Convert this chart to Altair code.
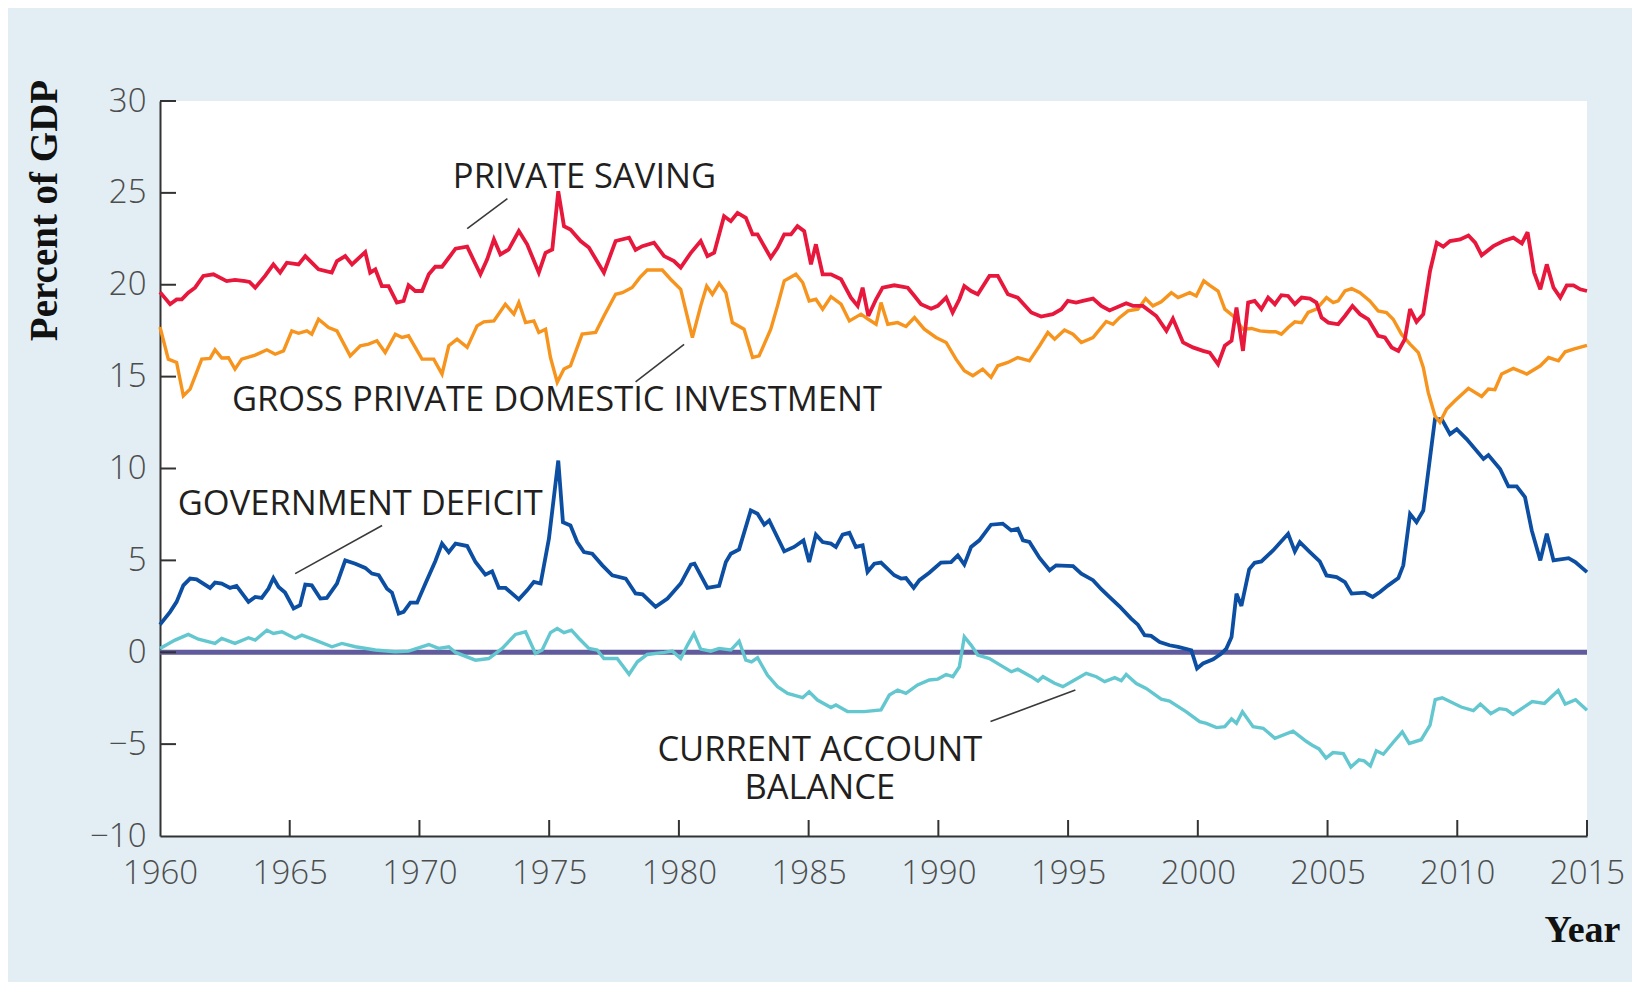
import altair as alt
import pandas as pd

# ---------------- data ----------------
saving_years = [1960.0, 1960.39, 1960.64, 1960.84, 1961.09, 1961.35, 1961.67, 1962.06, 1962.57, 1962.89,
                1963.28, 1963.45, 1963.67, 1964.05, 1964.37, 1964.63, 1964.89, 1965.34, 1965.6, 1965.85,
                1966.11, 1966.62, 1966.82, 1967.14, 1967.4, 1967.91, 1968.1, 1968.3, 1968.55, 1968.81,
                1969.13, 1969.39, 1969.58, 1969.84, 1970.1, 1970.36, 1970.61, 1970.87, 1971.13, 1971.39,
                1971.84, 1972.35, 1972.61, 1972.87, 1973.12, 1973.44, 1973.83, 1974.15, 1974.6, 1974.86,
                1975.12, 1975.35, 1975.57, 1975.82, 1976.21, 1976.53, 1977.11, 1977.56, 1978.08, 1978.33,
                1978.59, 1979.04, 1979.43, 1979.81, 1980.07, 1980.46, 1980.84, 1981.1, 1981.36, 1981.74,
                1982.0, 1982.26, 1982.58, 1982.84, 1983.03, 1983.54, 1983.8, 1984.06, 1984.32, 1984.57,
                1984.83, 1985.09, 1985.28, 1985.54, 1985.86, 1986.25, 1986.63, 1986.89, 1987.08, 1987.3,
                1987.6, 1987.85, 1988.3, 1988.82, 1989.08, 1989.33, 1989.72, 1989.98, 1990.3, 1990.55,
                1990.81, 1991.0, 1991.26, 1991.52, 1991.97, 1992.29, 1992.68, 1993.06, 1993.58, 1993.96,
                1994.41, 1994.74, 1994.99, 1995.31, 1995.57, 1995.96, 1996.28, 1996.6, 1997.24, 1997.5,
                1997.88, 1998.4, 1998.79, 1999.04, 1999.43, 1999.81, 2000.2, 2000.46, 2000.78, 2001.04,
                2001.3, 2001.49, 2001.74, 2001.94, 2002.19, 2002.45, 2002.71, 2002.97, 2003.22, 2003.48,
                2003.74, 2004.0, 2004.32, 2004.57, 2004.77, 2005.03, 2005.41, 2005.67, 2005.96, 2006.25,
                2006.57, 2006.95, 2007.21, 2007.47, 2007.73, 2007.98, 2008.18, 2008.43, 2008.69, 2008.95,
                2009.21, 2009.46, 2009.72, 2010.11, 2010.43, 2010.69, 2010.94, 2011.39, 2011.78, 2012.16,
                2012.49, 2012.71, 2012.96, 2013.2, 2013.45, 2013.71, 2013.97, 2014.22, 2014.48, 2014.74,
                2015.0]
saving_vals = [19.6, 18.94, 19.2, 19.21, 19.57, 19.84, 20.48, 20.57, 20.2, 20.26,
               20.2, 20.15, 19.84, 20.48, 21.11, 20.66, 21.2, 21.11, 21.56, 21.2,
               20.84, 20.66, 21.29, 21.56, 21.11, 21.78, 20.66, 20.84, 19.93, 19.93,
               19.03, 19.12, 19.97, 19.66, 19.66, 20.57, 20.98, 20.98, 21.47, 21.96,
               22.07, 20.57, 21.38, 22.47, 21.65, 21.92, 22.92, 22.2, 20.66, 21.74,
               21.92, 25.09, 23.19, 23.01, 22.38, 22.02, 20.66, 22.38, 22.56, 21.9,
               22.1, 22.29, 21.56, 21.29, 20.93, 21.74, 22.38, 21.56, 21.74, 23.73,
               23.46, 23.91, 23.64, 22.74, 22.74, 21.47, 22.01, 22.74, 22.74, 23.19,
               22.92, 21.11, 22.2, 20.57, 20.57, 20.3, 19.3, 18.85, 19.84, 18.3,
               19.21, 19.84, 19.97, 19.84, 19.39, 18.94, 18.7, 18.85, 19.3, 18.49,
               19.21, 19.93, 19.66, 19.48, 20.48, 20.48, 19.48, 19.3, 18.49, 18.27,
               18.4, 18.67, 19.12, 19.03, 19.12, 19.25, 18.85, 18.6, 18.99, 18.85,
               18.85, 18.3, 17.49, 18.16, 16.86, 16.59, 16.4, 16.31, 15.68, 16.68,
               16.95, 18.76, 16.4, 19.03, 19.12, 18.67, 19.3, 18.94, 19.43, 19.39,
               18.94, 19.3, 19.25, 19.03, 18.21, 17.94, 17.85, 18.3, 18.85, 18.4,
               18.12, 17.22, 17.13, 16.59, 16.4, 17.04, 18.67, 17.98, 18.4, 20.75,
               22.29, 22.07, 22.38, 22.47, 22.68, 22.29, 21.6, 22.1, 22.38, 22.56,
               22.25, 22.86, 20.66, 19.75, 21.11, 19.84, 19.3, 19.97, 19.97, 19.75,
               19.66]

invest_years = [1960.0, 1960.32, 1960.64, 1960.9, 1961.16, 1961.61, 1961.93, 1962.12, 1962.38, 1962.64,
                1962.89, 1963.15, 1963.67, 1964.12, 1964.44, 1964.76, 1965.08, 1965.34, 1965.66, 1965.85,
                1966.11, 1966.5, 1966.82, 1967.33, 1967.72, 1968.04, 1968.36, 1968.68, 1969.07, 1969.33,
                1969.58, 1970.1, 1970.55, 1970.87, 1971.13, 1971.45, 1971.84, 1972.22, 1972.48, 1972.87,
                1973.31, 1973.64, 1973.83, 1974.09, 1974.41, 1974.6, 1974.86, 1975.05, 1975.31, 1975.57,
                1975.82, 1976.27, 1976.79, 1977.11, 1977.56, 1977.82, 1978.2, 1978.5, 1978.78, 1979.36,
                1979.68, 1980.07, 1980.52, 1980.84, 1981.07, 1981.29, 1981.55, 1981.81, 1982.06, 1982.51,
                1982.84, 1983.09, 1983.54, 1983.8, 1984.06, 1984.51, 1984.77, 1985.02, 1985.28, 1985.54,
                1985.86, 1986.25, 1986.57, 1987.02, 1987.3, 1987.6, 1987.79, 1988.05, 1988.43, 1988.75,
                1989.08, 1989.46, 1989.91, 1990.3, 1990.68, 1991.0, 1991.33, 1991.71, 1992.03, 1992.29,
                1992.68, 1993.06, 1993.51, 1993.9, 1994.22, 1994.48, 1994.86, 1995.19, 1995.51, 1995.96,
                1996.47, 1996.73, 1996.98, 1997.31, 1997.69, 1997.99, 1998.27, 1998.59, 1998.98, 1999.24,
                1999.69, 1999.94, 2000.23, 2000.46, 2000.78, 2001.04, 2001.36, 2001.74, 2002.07, 2002.39,
                2002.77, 2003.0, 2003.22, 2003.48, 2003.74, 2004.0, 2004.25, 2004.57, 2004.96, 2005.22,
                2005.41, 2005.67, 2005.93, 2006.25, 2006.63, 2006.95, 2007.27, 2007.53, 2007.85, 2008.18,
                2008.5, 2008.69, 2008.88, 2009.14, 2009.33, 2009.59, 2009.91, 2010.43, 2010.94, 2011.2,
                2011.45, 2011.71, 2012.16, 2012.68, 2013.2, 2013.52, 2013.9, 2014.16, 2014.48, 2015.0]
invest_vals = [17.7, 15.95, 15.77, 13.96, 14.32, 15.95, 15.99, 16.46, 16.01, 16.03,
               15.41, 15.95, 16.17, 16.46, 16.22, 16.4, 17.49, 17.36, 17.49, 17.31,
               18.12, 17.67, 17.49, 16.13, 16.68, 16.77, 16.95, 16.31, 17.31, 17.13,
               17.22, 15.95, 15.95, 15.14, 16.68, 17.04, 16.59, 17.76, 17.98, 18.03,
               18.94, 18.4, 19.03, 17.94, 18.03, 17.4, 17.58, 16.04, 14.69, 15.41,
               15.59, 17.31, 17.4, 18.3, 19.48, 19.57, 19.85, 20.4, 20.8, 20.8,
               20.3, 19.75, 17.13, 18.85, 19.93, 19.48, 20.08, 19.57, 17.94, 17.58,
               16.04, 16.13, 17.58, 18.85, 20.21, 20.57, 20.12, 19.12, 19.21, 18.67,
               19.35, 18.94, 18.03, 18.4, 18.12, 17.85, 19.03, 17.85, 17.94, 17.73,
               18.21, 17.58, 17.13, 16.86, 15.95, 15.32, 15.05, 15.41, 14.96, 15.59,
               15.77, 16.04, 15.86, 16.68, 17.4, 17.04, 17.54, 17.31, 16.86, 17.13,
               18.0, 17.85, 18.21, 18.58, 18.67, 19.25, 18.85, 19.07, 19.57, 19.3,
               19.57, 19.39, 20.21, 19.97, 19.66, 18.67, 18.3, 17.58, 17.62, 17.49,
               17.44, 17.44, 17.31, 17.67, 17.98, 17.94, 18.49, 18.67, 19.3, 19.03,
               19.12, 19.66, 19.79, 19.57, 19.12, 18.58, 18.49, 18.12, 17.31, 16.77,
               16.31, 15.5, 14.14, 12.87, 12.51, 13.24, 13.69, 14.36, 13.92, 14.32,
               14.29, 15.14, 15.45, 15.14, 15.59, 16.04, 15.86, 16.35, 16.5, 16.7]

deficit_years = [1960.0, 1960.39, 1960.64, 1960.9, 1961.16, 1961.41, 1961.93, 1962.12, 1962.38, 1962.7,
                 1962.95, 1963.41, 1963.67, 1963.92, 1964.18, 1964.37, 1964.57, 1964.82, 1965.15, 1965.4,
                 1965.6, 1965.85, 1966.18, 1966.43, 1966.82, 1967.14, 1967.53, 1967.91, 1968.17, 1968.43,
                 1968.75, 1968.94, 1969.2, 1969.39, 1969.65, 1969.91, 1970.23, 1970.61, 1970.87, 1971.13,
                 1971.39, 1971.84, 1972.16, 1972.54, 1972.8, 1973.06, 1973.32, 1973.83, 1974.15, 1974.41,
                 1974.67, 1974.99, 1975.35, 1975.53, 1975.82, 1976.08, 1976.34, 1976.66, 1977.05, 1977.43,
                 1977.95, 1978.33, 1978.6, 1979.1, 1979.56, 1980.07, 1980.46, 1980.6, 1981.1, 1981.55,
                 1981.81, 1982.0, 1982.32, 1982.77, 1983.03, 1983.29, 1983.48, 1984.06, 1984.44, 1984.8,
                 1985.02, 1985.28, 1985.54, 1985.86, 1986.05, 1986.31, 1986.57, 1986.82, 1987.08, 1987.27,
                 1987.53, 1987.79, 1988.3, 1988.56, 1988.75, 1989.05, 1989.27, 1989.65, 1990.1, 1990.49,
                 1990.75, 1991.0, 1991.26, 1991.58, 1992.03, 1992.48, 1992.81, 1993.06, 1993.26, 1993.51,
                 1993.9, 1994.29, 1994.54, 1995.19, 1995.51, 1995.96, 1996.28, 1996.6, 1996.98, 1997.43,
                 1997.69, 1997.95, 1998.2, 1998.53, 1998.91, 1999.24, 1999.75, 1999.97, 2000.2, 2000.59,
                 2000.91, 2001.1, 2001.3, 2001.49, 2001.68, 2001.98, 2002.19, 2002.45, 2002.9, 2003.48,
                 2003.74, 2003.93, 2004.32, 2004.7, 2004.96, 2005.35, 2005.67, 2005.93, 2006.44, 2006.74,
                 2007.02, 2007.34, 2007.73, 2007.92, 2008.18, 2008.43, 2008.69, 2009.14, 2009.4, 2009.72,
                 2009.98, 2010.36, 2011.01, 2011.2, 2011.65, 2011.97, 2012.29, 2012.61, 2012.87, 2013.2,
                 2013.45, 2013.71, 2014.29, 2014.55, 2015.0]
deficit_vals = [1.5, 2.2, 2.74, 3.64, 4.01, 3.97, 3.5, 3.79, 3.74, 3.5,
                3.61, 2.74, 3.01, 2.96, 3.46, 4.04, 3.55, 3.25, 2.38, 2.56,
                3.68, 3.64, 2.92, 2.96, 3.74, 5.0, 4.82, 4.59, 4.28, 4.19,
                3.46, 3.25, 2.11, 2.2, 2.7, 2.7, 3.74, 4.95, 5.91, 5.45,
                5.91, 5.78, 4.91, 4.22, 4.4, 3.5, 3.5, 2.88, 3.37, 3.83,
                3.74, 6.18, 10.43, 7.08, 6.9, 6.0, 5.45, 5.36, 4.73, 4.19,
                4.01, 3.2, 3.15, 2.47, 2.92, 3.74, 4.77, 4.82, 3.5, 3.61,
                4.91, 5.36, 5.6, 7.72, 7.54, 6.94, 7.17, 5.49, 5.73, 6.09,
                4.91, 6.4, 6.0, 5.91, 5.73, 6.4, 6.5, 5.73, 5.82, 4.37,
                4.82, 4.88, 4.19, 4.01, 4.04, 3.5, 3.92, 4.33, 4.88, 4.91,
                5.27, 4.77, 5.73, 6.09, 6.94, 7.0, 6.63, 6.72, 6.09, 6.0,
                5.13, 4.46, 4.73, 4.69, 4.28, 3.92, 3.43, 3.0, 2.5, 1.83,
                1.5, 0.93, 0.89, 0.56, 0.38, 0.29, 0.11, -0.88, -0.61, -0.38,
                -0.07, 0.2, 0.83, 3.19, 2.52, 4.51, 4.87, 4.94, 5.54, 6.45,
                5.49, 5.99, 5.45, 4.94, 4.18, 4.09, 3.82, 3.19, 3.24, 3.01,
                3.28, 3.64, 4.04, 4.73, 7.53, 7.08, 7.71, 12.69, 12.69, 11.87,
                12.14, 11.6, 10.52, 10.73, 9.97, 9.03, 9.03, 8.44, 6.63, 5.0,
                6.45, 5.0, 5.12, 4.91, 4.36]

current_years = [1960.0, 1960.58, 1961.09, 1961.48, 1962.12, 1962.38, 1962.89, 1963.41, 1963.67, 1964.12,
                 1964.37, 1964.7, 1965.21, 1965.47, 1965.98, 1966.63, 1967.01, 1967.53, 1968.3, 1969.07,
                 1969.58, 1970.36, 1970.74, 1971.13, 1971.39, 1972.16, 1972.67, 1973.19, 1973.7, 1974.09,
                 1974.47, 1974.73, 1975.05, 1975.31, 1975.57, 1975.86, 1976.15, 1976.53, 1976.85, 1977.11,
                 1977.62, 1978.08, 1978.4, 1978.78, 1979.43, 1979.75, 1980.07, 1980.33, 1980.58, 1980.84,
                 1981.23, 1981.55, 1982.0, 1982.32, 1982.58, 1982.8, 1983.03, 1983.41, 1983.8, 1984.19,
                 1984.77, 1985.02, 1985.34, 1985.86, 1986.05, 1986.5, 1987.14, 1987.79, 1988.11, 1988.43,
                 1988.75, 1989.2, 1989.65, 1989.98, 1990.3, 1990.56, 1990.81, 1991.0, 1991.26, 1991.52,
                 1991.97, 1992.42, 1992.81, 1993.06, 1993.58, 1993.84, 1994.03, 1994.48, 1994.8, 1995.25,
                 1995.7, 1996.09, 1996.41, 1996.8, 1997.05, 1997.24, 1997.63, 1998.01, 1998.59, 1998.91,
                 1999.56, 2000.07, 2000.33, 2000.72, 2001.04, 2001.3, 2001.49, 2001.72, 2002.13, 2002.52,
                 2002.97, 2003.67, 2004.19, 2004.41, 2004.67, 2004.94, 2005.21, 2005.61, 2005.9, 2006.21,
                 2006.41, 2006.65, 2006.88, 2007.15, 2007.55, 2007.88, 2008.15, 2008.61, 2008.95, 2009.15,
                 2009.42, 2010.15, 2010.62, 2010.89, 2011.29, 2011.62, 2011.89, 2012.15, 2012.89, 2013.36,
                 2013.89, 2014.16, 2014.56, 2015.0]
current_vals = [0.2, 0.66, 0.97, 0.71, 0.48, 0.75, 0.48, 0.79, 0.66, 1.2,
                1.02, 1.11, 0.75, 0.93, 0.66, 0.3, 0.48, 0.3, 0.12, 0.03,
                0.06, 0.42, 0.21, 0.3, -0.01, -0.43, -0.34, 0.21, 0.97, 1.11,
                -0.06, 0.12, 1.07, 1.29, 1.07, 1.2, 0.75, 0.21, 0.12, -0.34,
                -0.34, -1.2, -0.52, -0.12, -0.01, 0.06, -0.34, 0.39, 1.02, 0.17,
                0.06, 0.21, 0.12, 0.6, -0.43, -0.52, -0.3, -1.24, -1.87, -2.24,
                -2.47, -2.15, -2.6, -3.01, -2.87, -3.23, -3.23, -3.14, -2.33, -2.06,
                -2.24, -1.78, -1.51, -1.46, -1.21, -1.33, -0.79, 0.84, 0.39, -0.15,
                -0.34, -0.73, -1.06, -0.92, -1.33, -1.57, -1.33, -1.69, -1.87, -1.51,
                -1.15, -1.33, -1.6, -1.38, -1.55, -1.21, -1.7, -1.97, -2.55, -2.66,
                -3.24, -3.78, -3.87, -4.1, -4.05, -3.63, -3.87, -3.24, -4.05, -4.14,
                -4.68, -4.29, -4.86, -5.06, -5.26, -5.76, -5.46, -5.52, -6.25, -5.86,
                -5.91, -6.19, -5.36, -5.55, -4.87, -4.33, -4.96, -4.76, -3.97, -2.58,
                -2.48, -2.98, -3.18, -2.82, -3.34, -3.07, -3.12, -3.38, -2.68, -2.78,
                -2.08, -2.82, -2.58, -3.15]

series_names = ["CURRENT ACCOUNT", "GOVERNMENT DEFICIT", "INVESTMENT", "PRIVATE SAVING"]
series_colors = ["#63c7d0", "#0b4ea2", "#f7941d", "#e8173c"]
series_widths = [3.4, 3.8, 3.4, 3.8]

x_label_values = [1960, 1965, 1970, 1975, 1980, 1985, 1990, 1995, 2000, 2005, 2010, 2015]
x_tick_values = [1965, 1970, 1975, 1980, 1985, 1990, 1995, 2000, 2005, 2010, 2015]
y_label_values = [-10, -5, 0, 5, 10, 15, 20, 25, 30]
y_tick_values = [-5, 0, 5, 10, 15, 20, 25, 30]

ann_text = ["PRIVATE SAVING", "GROSS PRIVATE DOMESTIC INVESTMENT", "GOVERNMENT DEFICIT",
            "CURRENT ACCOUNT\nBALANCE"]
ann_year = [1976.36, 1975.30, 1967.72, 1985.43]
ann_value = [25.83, 13.67, 7.99, -5.37]

lead_year1 = [1971.84, 1978.33, 1965.21, 1992.01]
lead_val1 = [23.06, 14.72, 4.28, -3.77]
lead_year2 = [1973.39, 1980.20, 1968.56, 1995.28]
lead_val2 = [24.69, 16.76, 6.90, -2.06]

# ---------------- build tables ----------------
frames = []
for name, ys, vs in [("CURRENT ACCOUNT", current_years, current_vals),
                     ("GOVERNMENT DEFICIT", deficit_years, deficit_vals),
                     ("INVESTMENT", invest_years, invest_vals),
                     ("PRIVATE SAVING", saving_years, saving_vals)]:
    frames.append(pd.DataFrame({"year": ys, "value": vs, "series": name}))

x_scale = alt.Scale(domain=[1960, 2015], nice=False, zero=False)
y_scale = alt.Scale(domain=[-10, 30], nice=False, zero=False)

AX = "#333333"
LAB = "#4d4d4d"
FONT = "Open Sans"
SERIF = "Liberation Serif"

x_axis = alt.Axis(values=x_label_values, format="d", ticks=False, grid=False,
                  domainColor=AX, domainWidth=2, labelFont=FONT, labelFontSize=33,
                  labelFontWeight=300, labelColor=LAB, labelPadding=21, labelFlush=False,
                  labelOverlap=False, title="Year", titleFont=SERIF, titleFontSize=38,
                  titleFontWeight="bold", titleColor="#111111", titleX=1422, titleY=94,
                  titleAlign="center", titleBaseline="middle", titleAngle=0)
y_axis = alt.Axis(values=y_label_values, ticks=False, grid=False,
                  domainColor=AX, domainWidth=2, labelFont=FONT, labelFontSize=33,
                  labelFontWeight=300, labelColor=LAB, labelPadding=14, labelFlush=False,
                  labelOverlap=False, title="Percent of GDP", titleFont=SERIF, titleFontSize=39,
                  titleFontWeight="bold", titleColor="#111111", titleX=-116, titleY=109,
                  titleAlign="center", titleBaseline="middle", titleAngle=270)

layers = []

# zero line
zero = alt.Chart(pd.DataFrame({"v": [0]})).mark_rule(color="#5f5b9c", strokeWidth=5).encode(
    y=alt.Y("v:Q", scale=y_scale, axis=y_axis))
layers.append(zero)

for name, col, w, df in zip(series_names, series_colors, series_widths, frames):
    layers.append(
        alt.Chart(df).mark_line(color=col, strokeWidth=w, strokeJoin="miter", strokeMiterLimit=3).encode(
            x=alt.X("year:Q", scale=x_scale, axis=x_axis),
            y=alt.Y("value:Q", scale=y_scale, axis=y_axis),
        )
    )

# inward tick marks
xt = alt.Chart(pd.DataFrame({"year": x_tick_values, "base": -10})).mark_tick(
    orient="vertical", size=16, thickness=2, color=AX, yOffset=-8, opacity=1).encode(
    x=alt.X("year:Q", scale=x_scale, axis=x_axis),
    y=alt.Y("base:Q", scale=y_scale, axis=y_axis))
yt = alt.Chart(pd.DataFrame({"v": y_tick_values, "base": 1960})).mark_tick(
    orient="horizontal", size=16, thickness=2, color=AX, xOffset=8, opacity=1).encode(
    x=alt.X("base:Q", scale=x_scale, axis=x_axis),
    y=alt.Y("v:Q", scale=y_scale, axis=y_axis))
layers += [xt, yt]

# leader lines
lead_df = pd.DataFrame({"x1": lead_year1, "y1": lead_val1, "x2": lead_year2, "y2": lead_val2})
leads = alt.Chart(lead_df).mark_rule(color="#3a3a3a", strokeWidth=1.6).encode(
    x=alt.X("x1:Q", scale=x_scale, axis=x_axis), x2="x2:Q",
    y=alt.Y("y1:Q", scale=y_scale, axis=y_axis), y2="y2:Q")
layers.append(leads)

# annotations
ann_df = pd.DataFrame({"label": ann_text, "year": ann_year, "value": ann_value})
ann = alt.Chart(ann_df).mark_text(font=FONT, fontSize=34.5, fontWeight=500, color="#231f20",
                                  align="center", baseline="middle", lineBreak="\n",
                                  lineHeight=38).encode(
    x=alt.X("year:Q", scale=x_scale, axis=x_axis),
    y=alt.Y("value:Q", scale=y_scale, axis=y_axis),
    text="label:N")
layers.append(ann)

chart = alt.layer(*layers).properties(
    width=1427, height=735,
    autosize=alt.AutoSizeParams(type="none"),
    padding={"left": 152, "top": 93, "right": 45, "bottom": 146},
    background="#e2eef4",
).configure_view(fill="white", stroke=None)

chart.save("out.html", embed_options={"renderer": "svg", "actions": False})
